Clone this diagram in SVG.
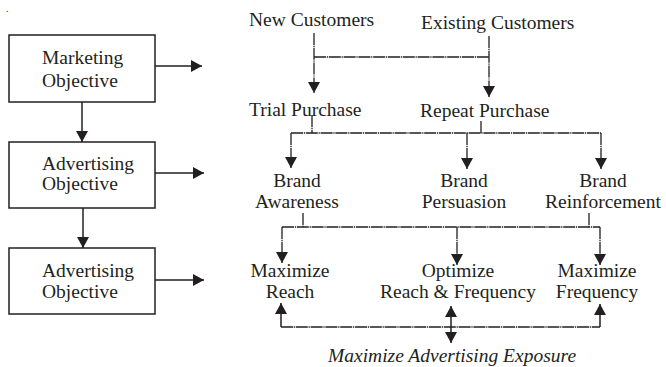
<svg xmlns="http://www.w3.org/2000/svg" width="666" height="367" viewBox="0 0 666 367">
<style>
text{font-family:"Liberation Serif","Times New Roman",serif;font-size:19.5px;fill:#231f20}
.c{text-anchor:middle}
.box{fill:#fff;stroke:#231f20;stroke-width:1.5}
.solid{fill:none;stroke:#231f20;stroke-width:1.5}
.dash{fill:none;stroke:#231f20;stroke-width:1.3;stroke-dasharray:12 0.8 1.2 0.8}
</style>
<defs>
<marker id="ah" markerUnits="userSpaceOnUse" markerWidth="12" markerHeight="12" refX="11" refY="6" orient="auto">
<path d="M0,0 L11,6 L0,12 z" fill="#231f20"/>
</marker>
</defs>
<rect width="666" height="367" fill="#fff"/>
<text x="6" y="12" style="font-size:10px">.</text>

<g id="connectors">
<path class="solid" d="M155,66 H202" marker-end="url(#ah)"/>
<path class="solid" d="M155,173 H204" marker-end="url(#ah)"/>
<path class="solid" d="M155,280 H204" marker-end="url(#ah)"/>
<path class="solid" d="M82,102 V142" marker-end="url(#ah)"/>
<path class="solid" d="M83,208 V248" marker-end="url(#ah)"/>

<path class="dash" d="M314,33 V93" marker-end="url(#ah)"/>
<path class="dash" d="M489,36 V97" marker-end="url(#ah)"/>
<path class="dash" d="M314,57 H489"/>

<path class="dash" d="M312,115 V133"/>
<path class="dash" d="M481,121 V133"/>
<path class="dash" d="M291,133 H601"/>
<path class="dash" d="M291,133 V168" marker-end="url(#ah)"/>
<path class="dash" d="M467,133 V169" marker-end="url(#ah)"/>
<path class="dash" d="M601,133 V169" marker-end="url(#ah)"/>

<path class="dash" d="M303,213 V227"/>
<path class="dash" d="M589,213 V227"/>
<path class="dash" d="M282,227 H600"/>
<path class="dash" d="M282,227 V263" marker-end="url(#ah)"/>
<path class="dash" d="M457,227 V265" marker-end="url(#ah)"/>
<path class="dash" d="M600,227 V265" marker-end="url(#ah)"/>

<path class="dash" d="M281,327 H600"/>
<path class="solid" d="M281,327 V303" marker-end="url(#ah)"/>
<path class="solid" d="M600,327 V304" marker-end="url(#ah)"/>
<path class="solid" d="M451,325 V306" marker-end="url(#ah)"/>
<path class="solid" d="M451,325 V343" marker-end="url(#ah)"/>
</g>

<g id="marketing-objective">
<rect class="box" x="9" y="35" width="146" height="67"/>
<text x="42" y="64">Marketing</text>
<text x="42" y="87">Objective</text>
</g>
<g id="advertising-objective-1">
<rect class="box" x="9" y="142" width="146" height="66"/>
<text x="42" y="170">Advertising</text>
<text x="42" y="190">Objective</text>
</g>
<g id="advertising-objective-2">
<rect class="box" x="9" y="248" width="146" height="66"/>
<text x="42" y="277">Advertising</text>
<text x="42" y="298">Objective</text>
</g>

<g id="new-customers"><text x="249" y="26">New Customers</text></g>
<g id="existing-customers"><text x="421" y="29">Existing Customers</text></g>
<g id="trial-purchase"><text x="249" y="116">Trial Purchase</text></g>
<g id="repeat-purchase"><text x="420" y="117">Repeat Purchase</text></g>

<g id="brand-awareness"><text class="c" x="297" y="187">Brand</text><text class="c" x="297" y="208">Awareness</text></g>
<g id="brand-persuasion"><text class="c" x="464" y="187">Brand</text><text class="c" x="464" y="208">Persuasion</text></g>
<g id="brand-reinforcement"><text class="c" x="603" y="187">Brand</text><text class="c" x="603" y="208">Reinforcement</text></g>

<g id="maximize-reach"><text class="c" x="290" y="277">Maximize</text><text class="c" x="290" y="298">Reach</text></g>
<g id="optimize"><text class="c" x="458" y="277">Optimize</text><text class="c" x="458" y="298">Reach &amp; Frequency</text></g>
<g id="maximize-frequency"><text class="c" x="597" y="277">Maximize</text><text class="c" x="597" y="298">Frequency</text></g>

<g id="exposure"><text x="328" y="362" style="font-style:italic">Maximize Advertising Exposure</text></g>
</svg>
